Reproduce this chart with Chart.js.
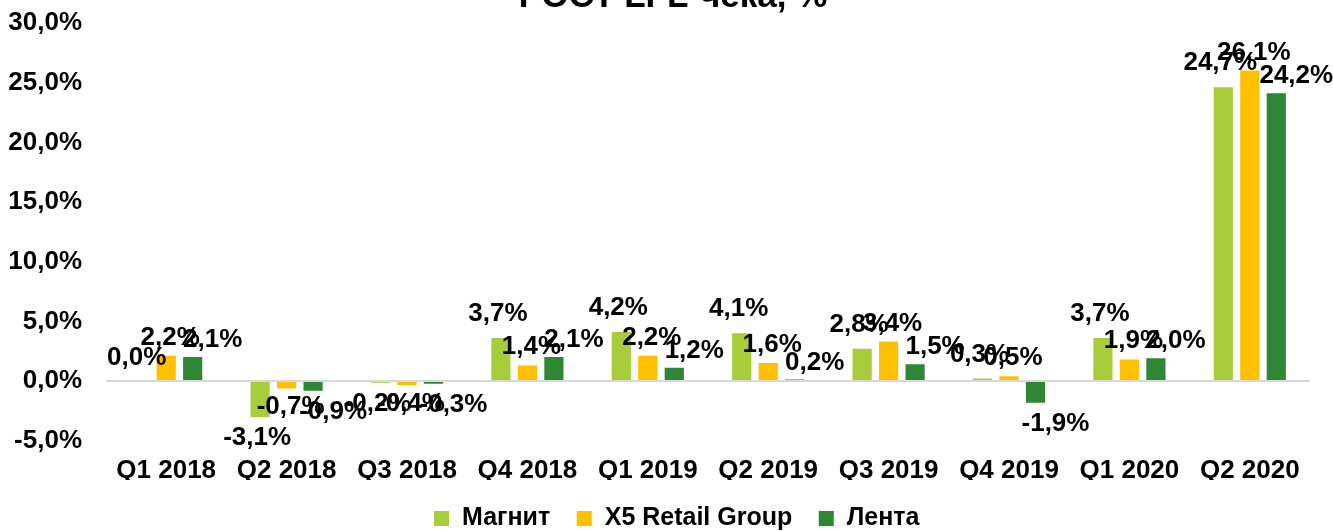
<!DOCTYPE html>
<html>
<head>
<meta charset="utf-8">
<script src="https://cdn.jsdelivr.net/npm/chart.js@4/dist/chart.umd.min.js"></script>
<style>
  html, body { margin: 0; padding: 0; background: #fff; overflow: hidden; }
  #chart { display: block; }
</style>
</head>
<body>
<canvas id="chart" width="1333" height="531"></canvas>
<script>
const quarters = ["Q1 2018", "Q2 2018", "Q3 2018", "Q4 2018", "Q1 2019", "Q2 2019", "Q3 2019", "Q4 2019", "Q1 2020", "Q2 2020"];
const magnit = [0.0, -3.1, -0.2, 3.7, 4.2, 4.1, 2.8, 0.3, 3.7, 24.7];
const x5 = [2.2, -0.7, -0.4, 1.4, 2.2, 1.6, 3.4, 0.5, 1.9, 26.1];
const lenta = [2.1, -0.9, -0.3, 2.1, 1.2, 0.2, 1.5, -1.9, 2.0, 24.2];
const seriesNames = ["Магнит", "X5 Retail Group", "Лента"];
const yTicks = [-5, 0, 5, 10, 15, 20, 25, 30];
const titleText = "РОСТ LFL-чека, %";

const FONT = 'Arial, "Liberation Sans", sans-serif';
const pct = v => v.toFixed(1).replace(".", ",") + "%";

// excel-ish labels: each series sits a bit differently relative to its bar
const labelShiftX = [-3, 4, 20];
const labelGapUp = [16, 10, 9];
const labelGapDown = [8, 6, 8];

const barLabels = {
  id: "barLabels",
  afterDatasetsDraw(chart) {
    const ctx = chart.ctx;
    ctx.save();
    ctx.font = "bold 26px " + FONT;
    ctx.fillStyle = "#000";
    ctx.textAlign = "center";
    ctx.textBaseline = "alphabetic";
    chart.data.datasets.forEach((ds, i) => {
      chart.getDatasetMeta(i).data.forEach((bar, j) => {
        const v = ds.data[j];
        const x = bar.x + labelShiftX[i];
        if (v >= 0) {
          ctx.fillText(pct(v), x, bar.y - labelGapUp[i]);
        } else {
          ctx.fillText(pct(v), x, bar.y + labelGapDown[i] + 19);
        }
      });
    });
    ctx.restore();
  }
};

// title is partly cut by the top edge in the original
const cutTitle = {
  id: "cutTitle",
  afterDraw(chart) {
    const ctx = chart.ctx;
    ctx.save();
    ctx.font = "bold 35px " + FONT;
    ctx.fillStyle = "#000";
    ctx.textAlign = "center";
    ctx.textBaseline = "alphabetic";
    ctx.fillText(titleText, 673, 7);
    ctx.restore();
  }
};

// legend sits a little right of centre in the original
const nudgeLegend = {
  id: "nudgeLegend",
  afterLayout(chart) {
    chart.legend.left += 18;
    chart.legend.right += 18;
  }
};

new Chart(document.getElementById("chart").getContext("2d"), {
  type: "bar",
  data: {
    labels: quarters,
    datasets: [
      { label: seriesNames[0], data: magnit, backgroundColor: "#A7CE3A" },
      { label: seriesNames[1], data: x5, backgroundColor: "#FFC000" },
      { label: seriesNames[2], data: lenta, backgroundColor: "#2F8634" }
    ].map(d => Object.assign(d, {
      borderColor: "rgba(255,255,255,0.9)",
      borderWidth: 1,
      categoryPercentage: 0.66,
      barPercentage: 0.8
    }))
  },
  options: {
    responsive: false,
    animation: false,
    layout: { padding: { left: 7, right: 23, top: 23, bottom: -10 } },
    plugins: {
      title: { display: false },
      tooltip: { enabled: false },
      legend: {
        position: "bottom",
        labels: {
          boxWidth: 16,
          boxHeight: 16,
          padding: 26,
          color: "#000",
          font: { family: FONT, size: 25, weight: "bold" }
        }
      }
    },
    scales: {
      x: {
        grid: { display: false, drawTicks: false },
        border: { display: false },
        afterFit: axis => { axis.height -= 20; },
        ticks: {
          color: "#000",
          padding: 14,
          maxRotation: 0,
          font: { family: FONT, size: 26, weight: "bold" }
        }
      },
      y: {
        min: yTicks[0],
        max: yTicks[yTicks.length - 1],
        afterBuildTicks: axis => { axis.ticks = yTicks.map(v => ({ value: v })); },
        afterFit: axis => { axis.width = 99; axis.paddingTop = 0; },
        grid: {
          drawTicks: false,
          lineWidth: 2,
          color: c => (c.tick && c.tick.value === 0 ? "#D9D9D9" : "rgba(0,0,0,0)")
        },
        border: { display: false },
        ticks: {
          color: "#000",
          padding: 24,
          font: { family: FONT, size: 26, weight: "bold" },
          callback: v => pct(v)
        }
      }
    }
  },
  plugins: [barLabels, cutTitle, nudgeLegend]
});
</script>
</body>
</html>
